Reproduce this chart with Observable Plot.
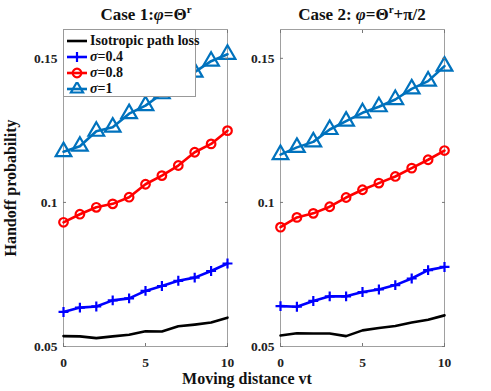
<!DOCTYPE html>
<html>
<head>
<meta charset="utf-8">
<script src="https://cdn.jsdelivr.net/npm/d3@7"></script>
<script src="https://cdn.jsdelivr.net/npm/@observablehq/plot@0.6"></script>
<style>
  html, body { margin: 0; padding: 0; background: white; }
  #wrap { position: relative; width: 491px; height: 391px; font-family: "Liberation Serif", "Times New Roman", serif; font-weight: bold; color: #111; }
  #wrap > * { position: absolute; }
  .title { font-size: 17px; white-space: nowrap; transform: translateX(-50%); top: 3px; }
  .title sup { font-size: 11px; }
  .lab { font-size: 16px; white-space: nowrap; }
  #legend { left: 63px; top: 29px; width: 131px; height: 66px; background: white; border: 1px solid #999; font-size: 14px; z-index: 5; }
  #legend .row { position: absolute; left: 2px; height: 16px; display: flex; align-items: center; white-space: nowrap; }
  #legend svg { margin-right: 2px; }
</style>
</head>
<body>
<div id="wrap"></div>
<script>
const xs = [0, 1, 2, 3, 4, 5, 6, 7, 8, 9, 10];
const yTicks = [0.05, 0.1, 0.15];
const xTicks = [0, 5, 10];
const seriesNames = ["Isotropic path loss", "σ=0.4", "σ=0.8", "σ=1"];

// Case 1: phi = Theta^r
const c1_iso  = [0.0536, 0.0535, 0.0529, 0.0535, 0.0541, 0.0553, 0.0552, 0.0570, 0.0576, 0.0583, 0.0600];
const c1_s04  = [0.0620, 0.0635, 0.0639, 0.0660, 0.0667, 0.0693, 0.0710, 0.0728, 0.0739, 0.0762, 0.0788];
const c1_s08  = [0.0931, 0.0959, 0.0983, 0.0995, 0.1018, 0.1063, 0.1093, 0.1128, 0.1174, 0.1203, 0.1249];
const c1_s1   = [0.1176, 0.1195, 0.1247, 0.1261, 0.1308, 0.1336, 0.1377, 0.1410, 0.1452, 0.1490, 0.1514];

// Case 2: phi = Theta^r + pi/2
const c2_iso  = [0.0538, 0.0546, 0.0545, 0.0545, 0.0536, 0.0556, 0.0564, 0.0571, 0.0583, 0.0593, 0.0608];
const c2_s04  = [0.0640, 0.0638, 0.0658, 0.0674, 0.0674, 0.0689, 0.0698, 0.0713, 0.0736, 0.0765, 0.0776];
const c2_s08  = [0.0914, 0.0948, 0.0962, 0.0985, 0.1017, 0.1044, 0.1067, 0.1090, 0.1119, 0.1148, 0.1180];
const c2_s1   = [0.1166, 0.1191, 0.1210, 0.1253, 0.1282, 0.1311, 0.1332, 0.1357, 0.1394, 0.1421, 0.1473];

const colors = ["#000000", "#0000ff", "#ff0000", "#0072bd"];
const symbols = [null, "plus", "circle", "triangle"];
const radii = [0, 3.3, 4.3, 5.8];

function rows(arr) { return xs.map((x, i) => ({x, y: arr[i]})); }

function panel(seriesList) {
  const marks = [Plot.frame({stroke: "#a0a0a0"})];
  seriesList.forEach((arr, k) => {
    const d = rows(arr);
    marks.push(Plot.line(d, {x: "x", y: "y", stroke: colors[k], strokeWidth: 2.6}));
    if (symbols[k]) {
      marks.push(Plot.dot(d, {x: "x", y: "y", stroke: colors[k], symbol: () => symbols[k], r: radii[k], strokeWidth: 2.2, fill: "none"}));
    }
  });
  marks.push(
    Plot.axisY({ticks: yTicks, tickFormat: d => String(d), tickSize: -3, tickPadding: 9, stroke: "#777", label: null}),
    Plot.axisY({anchor: "right", ticks: yTicks, tickFormat: () => "", tickSize: -3, tickPadding: 0, stroke: "#777", label: null}),
    Plot.axisX({ticks: xTicks, tickFormat: d => String(d), tickSize: -3, tickPadding: 14, stroke: "#777", label: null}),
    Plot.axisX({anchor: "top", ticks: xTicks, tickFormat: () => "", tickSize: -3, tickPadding: 0, stroke: "#777", label: null})
  );
  return Plot.plot({
    width: 237, height: 376,
    marginLeft: 63, marginRight: 10, marginTop: 29, marginBottom: 30,
    x: {domain: [0, 10]},
    y: {domain: [0.05, 0.16]},
    style: {background: "transparent", fontFamily: "'Liberation Serif', 'Times New Roman', serif", fontSize: "13.5px", fontWeight: "bold", color: "#222"},
    marks
  });
}

const wrap = document.getElementById("wrap");
const p1 = panel([c1_iso, c1_s04, c1_s08, c1_s1]);
p1.style.left = "0px"; p1.style.top = "0px"; p1.style.position = "absolute"; p1.style.maxWidth = "none";
const p2 = panel([c2_iso, c2_s04, c2_s08, c2_s1]);
p2.style.left = "217px"; p2.style.top = "0px"; p2.style.position = "absolute"; p2.style.maxWidth = "none";
wrap.appendChild(p1);
wrap.appendChild(p2);

function addHTML(html, cls, css) {
  const el = document.createElement("div");
  el.className = cls;
  el.innerHTML = html;
  Object.assign(el.style, css);
  wrap.appendChild(el);
  return el;
}
addHTML('Case 1:<i>φ</i>=Θ<sup>r</sup>', "title", {left: "146px"});
addHTML('Case 2: <i>φ</i>=Θ<sup>r</sup>+π/2', "title", {left: "362px"});
addHTML('Moving distance vt', "lab", {left: "247px", top: "370px", transform: "translateX(-50%)"});
addHTML('Handoff probability', "lab", {left: "11px", top: "188px", transform: "translate(-50%,-50%) rotate(-90deg)"});

// legend
const leg = document.createElement("div");
leg.id = "legend";
wrap.appendChild(leg);
seriesNames.forEach((name, k) => {
  const row = document.createElement("div");
  row.className = "row";
  row.style.top = (3 + k * 16) + "px";
  const sw = d3.create("svg").attr("width", 22).attr("height", 14);
  sw.append("line").attr("x1", 1).attr("x2", 21).attr("y1", 7).attr("y2", 7).attr("stroke", colors[k]).attr("stroke-width", 2.6);
  if (symbols[k]) {
    const sym = {plus: d3.symbolPlus, circle: d3.symbolCircle, triangle: d3.symbolTriangle2}[symbols[k]];
    sw.append("path").attr("transform", "translate(11,7)")
      .attr("d", d3.symbol(sym, Math.PI * radii[k] * radii[k])())
      .attr("fill", "none").attr("stroke", colors[k]).attr("stroke-width", 2.2);
  }
  row.appendChild(sw.node());
  const t = document.createElement("span");
  t.innerHTML = k === 0 ? name : '<i>σ</i>' + name.slice(1);
  row.appendChild(t);
  leg.appendChild(row);
});
</script>
</body>
</html>
